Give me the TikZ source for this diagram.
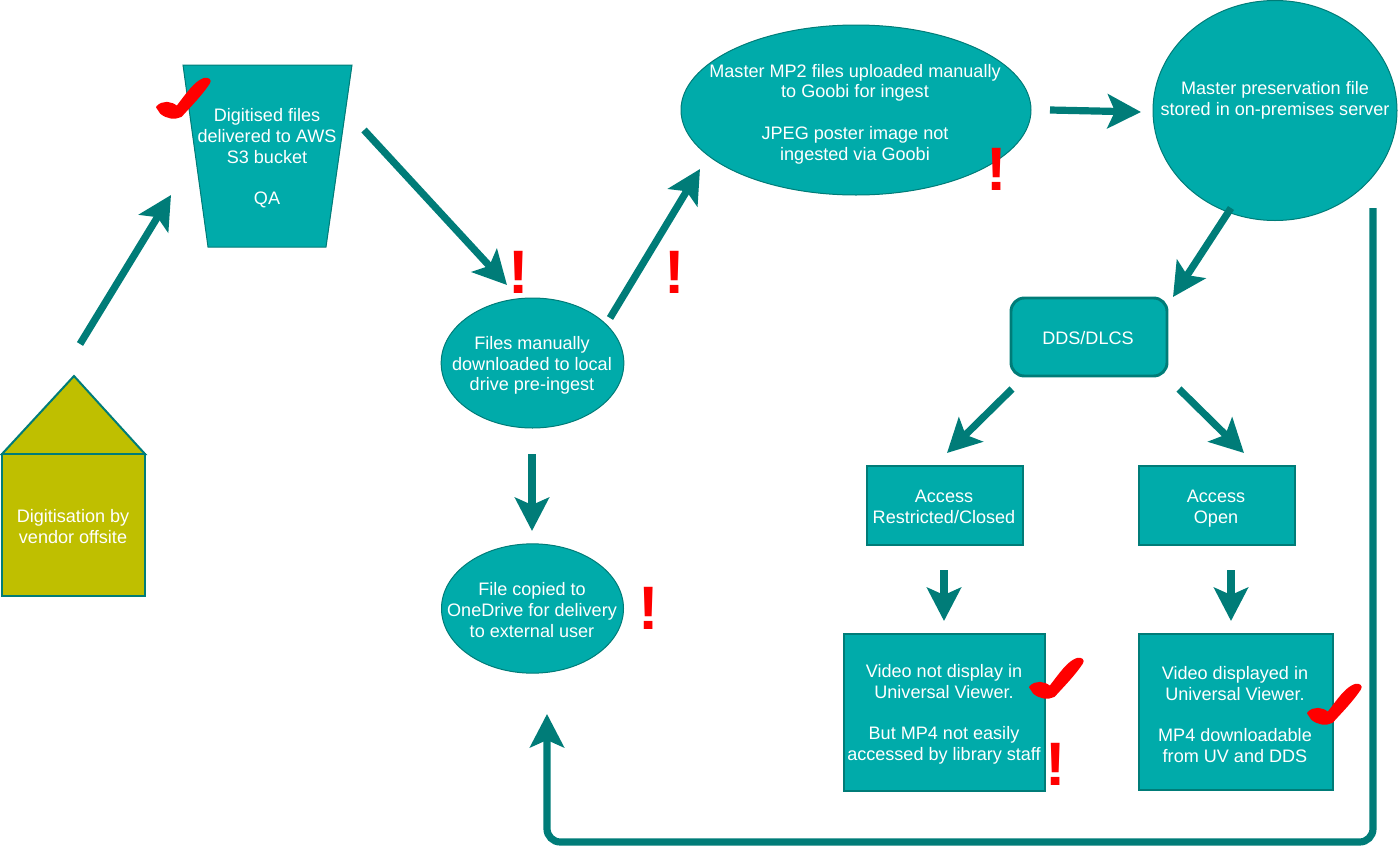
\documentclass[tikz,border=0pt]{standalone}
\usepackage{fontspec}
\setmainfont{Liberation Sans}
\usetikzlibrary{arrows.meta,shapes.geometric}
\definecolor{tealfill}{HTML}{00ABAA}
\definecolor{tealline}{HTML}{007C78}
\definecolor{olivefill}{HTML}{BFBF00}
\newcommand{\checkmk}[1]{\filldraw[red,line width=1.5pt,shift={(#1)},line join=round] (1,0) .. controls (7,-6) and (15,-5) .. (21,0) .. controls (31,-13) and (39,-25) .. (48,-28) .. controls (52,-29) and (55,-27) .. (53,-24) .. controls (45,-12) and (35,-2) .. (25,9) .. controls (19,12) and (11,11) .. (5,6) -- cycle;}
\tikzset{
  x=0.75pt,y=-0.75pt,
  lbl/.style={text=white,align=center,font=\fontsize{13.55}{15.6}\selectfont,inner sep=0pt},
  oval/.style={draw=tealline,line width=0.75pt,fill=tealfill,ellipse,inner sep=0pt,outer sep=0pt},
  boxshape/.style={draw=tealline,line width=2.2pt,fill=tealfill},
  flow/.style={draw=tealline,line width=5.4pt,-{Stealth[length=25pt,width=25.5pt,inset=5.5pt,fill=tealline]}},
  warn/.style={text=red,font=\fontsize{46}{46}\bfseries\selectfont,inner sep=0pt}
}
\begin{document}
\begin{tikzpicture}
\useasboundingbox (0,0) rectangle (1400,857);
% house
\path[draw=tealline,line width=1.5pt,fill=olivefill] (74,376) -- (145,454) -- (2,454) -- cycle;
\path[draw=tealline,line width=1.5pt,fill=olivefill] (2,454) rectangle (145,596);
\node[lbl] (vendor) at (73,526.5) {Digitisation by\\vendor offsite};
% trapezoid
\path[draw=tealline,line width=0.75pt,fill=tealfill] (183,65) -- (352,65) -- (326,247) -- (208,247) -- cycle;
\node[lbl] (bucket) at (267,158.5) {Digitised files\\delivered to AWS\\S3 bucket\\\mbox{}\\QA};
% ellipses
\node[oval,minimum width=137pt,minimum height=97.5pt] (localshape) at (532.5,363) {};
\node[lbl] (local) at (532,365.5) {Files manually\\downloaded to local\\drive pre-ingest};
\node[oval,minimum width=262.5pt,minimum height=127.5pt] (goobishape) at (856,110) {};
\node[lbl] (goobi) at (855,114) {Master MP2 files uploaded manually\\to Goobi for ingest\\\mbox{}\\JPEG poster image not\\ingested via Goobi};
\node[oval,minimum width=183pt,minimum height=165pt] (mastershape) at (1275,110.5) {};
\node[lbl] (master) at (1275,100) {Master preservation file\\stored in on-premises server};
\node[oval,minimum width=136.5pt,minimum height=97pt] (onedriveshape) at (532.5,608.5) {};
\node[lbl] (onedrive) at (532,610) {File copied to\\OneDrive for delivery\\to external user};
% boxes
\draw[boxshape,rounded corners=10pt] (1011,298) rectangle (1167,376);
\node[lbl] (dds) at (1088,338) {DDS/DLCS};
\draw[boxshape] (867,466) rectangle (1023,545);
\node[lbl] (restricted) at (944,507) {Access\\Restricted/Closed};
\draw[boxshape] (1139,466) rectangle (1295,545);
\node[lbl] (open) at (1216,509) {Access\\Open};
\draw[boxshape] (844,634) rectangle (1045,791);
\node[lbl] (novideo) at (944,714.5) {Video not display in\\Universal Viewer.\\\mbox{}\\But MP4 not easily\\accessed by library staff};
\draw[boxshape] (1139,634) rectangle (1333,790);
\node[lbl] (video) at (1235,714.5) {Video displayed in\\Universal Viewer.\\\mbox{}\\MP4 downloadable\\from UV and DDS};
% connector ends
\coordinate (a1s) at (80,344); \coordinate (a1e) at (171,195);
\coordinate (a2s) at (364,130); \coordinate (a2e) at (507,285);
\coordinate (a3s) at (610,318); \coordinate (a3e) at (700,169);
\coordinate (a4s) at (1050,110); \coordinate (a4e) at (1141,112);
\coordinate (a5s) at (1231,208); \coordinate (a5e) at (1173,297);
\coordinate (a6s) at (1012,389); \coordinate (a6e) at (947,453);
\coordinate (a7s) at (1179,389); \coordinate (a7e) at (1244,453);
\coordinate (a8s) at (944,570); \coordinate (a8e) at (944,621);
\coordinate (a9s) at (1231,570); \coordinate (a9e) at (1231,621);
\coordinate (a10s) at (532,454); \coordinate (a10e) at (532,531);
\coordinate (a11s) at (1373,208); \coordinate (a11c) at (1373,842); \coordinate (a11d) at (547,842); \coordinate (a11e) at (547,714);
\draw[flow] (a1s) -- (a1e);
\draw[flow] (a2s) -- (a2e);
\draw[flow] (a3s) -- (a3e);
\draw[flow] (a4s) -- (a4e);
\draw[flow] (a5s) -- (a5e);
\draw[flow] (a6s) -- (a6e);
\draw[flow] (a7s) -- (a7e);
\draw[flow] (a8s) -- (a8e);
\draw[flow] (a9s) -- (a9e);
\draw[flow] (a10s) -- (a10e);
\draw[flow,rounded corners=10pt] (a11s) -- (a11c) -- (a11d) -- (a11e);
% marks
\checkmk{156,107}
\checkmk{1029,687}
\checkmk{1307,713}
\node[warn] (w1) at (519,272.5) {!};
\node[warn] (w2) at (675,272.5) {!};
\node[warn] (w3) at (997,169.5) {!};
\node[warn] (w4) at (649,608.5) {!};
\node[warn] (w5) at (1056,764.5) {!};
\end{tikzpicture}
\end{document}
